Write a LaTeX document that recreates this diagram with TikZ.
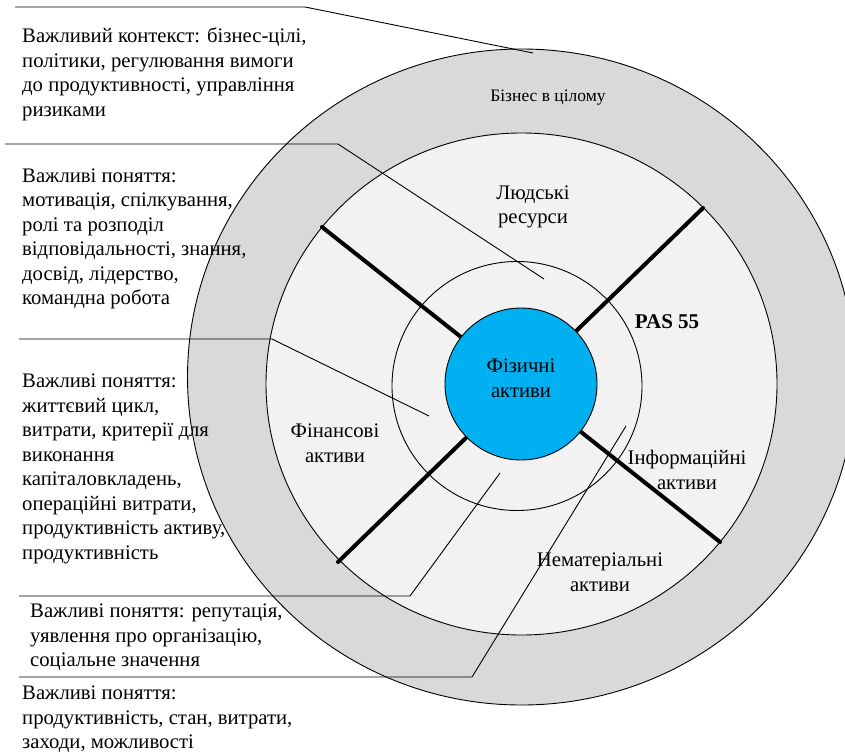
\documentclass[tikz,border=0pt]{standalone}
\usepackage{fontspec}
\setmainfont{Liberation Serif}
\definecolor{outergrey}{HTML}{D9D9D9}
\definecolor{innergrey}{HTML}{F2F2F2}
\definecolor{coreblue}{HTML}{00B0F0}
\begin{document}
\begin{tikzpicture}[x=1pt,y=-1pt,
  ring/.style={draw=black,line width=0.9pt},
  spoke/.style={line width=4pt,line cap=round},
  leader/.style={line width=0.9pt},
  note/.style={anchor=north west,inner sep=0pt,align=left,
    font=\fontsize{20.7}{24.5}\selectfont},
  sector/.style={align=center,inner sep=0pt,
    font=\fontsize{20.7}{24.5}\selectfont}]
\useasboundingbox (0,0) rectangle (845,754);

% outer business ring, cut at the page edge
\begin{scope}
  \clip (0,0) rectangle (845,754);
  \path[ring,fill=outergrey] (521.5,377) ellipse [x radius=334pt, y radius=328pt];
\end{scope}
% asset ring and the inner boundary circle
\path[ring,fill=innergrey] (521.5,384) ellipse [x radius=255.5pt, y radius=251pt];
\draw[ring] (517,386) ellipse [x radius=125pt, y radius=124.5pt];

% dividing spokes
\coordinate (s1) at (322,227);
\coordinate (s2) at (720,542);
\coordinate (s3) at (703,208);
\coordinate (s4) at (338,562);
\draw[spoke] (s1) -- (s2);
\draw[spoke] (s3) -- (s4);

% core: physical assets
\node[circle,draw=black,line width=0.9pt,fill=coreblue,minimum size=152pt,
  inner sep=0pt] (core) at (521,384) {};
\node[sector] (corelabel) at (521,378) {Фізичні\\активи};

% sector labels
\node[sector,font=\fontsize{17.5}{21}\selectfont] (biz) at (548,98) {Бізнес в цілому};
\node[sector] (hr) at (533,207) {Людські\\ресурси};
\node[sector,font=\fontsize{21}{24.5}\selectfont\bfseries] (pas) at (667,322) {PAS 55};
\node[sector] (fin) at (335,443) {Фінансові\\активи};
\node[sector] (info) at (687,470) {Інформаційні\\активи};
\node[sector] (intang) at (600,572) {Нематеріальні\\активи};

% explanatory notes
\node[note] (n1) at (22,27.5) {Важливий контекст: бізнес-цілі,\\політики, регулювання вимоги\\до продуктивності, управління\\ризиками};
\node[note] (n2) at (22,168.5) {Важливі поняття:\\мотивація, спілкування,\\ролі та розподіл\\відповідальності, знання,\\досвід, лідерство,\\командна робота};
\node[note] (n3) at (22,374) {Важливі поняття:\\життєвий цикл,\\витрати, критерії для\\виконання\\капіталовкладень,\\операційні витрати,\\продуктивність активу,\\продуктивність};
\node[note] (n4) at (30,604) {Важливі поняття: репутація,\\уявлення про організацію,\\соціальне значення};
\node[note] (n5) at (22,686) {Важливі поняття:\\продуктивність, стан, витрати,\\заходи, можливості};

% leader lines from the notes into the rings
\coordinate (l1a) at (15,7);   \coordinate (l1b) at (305,7);   \coordinate (l1c) at (533,53);
\coordinate (l2a) at (5,144);  \coordinate (l2b) at (338,144); \coordinate (l2c) at (544,279);
\coordinate (l3a) at (19,339); \coordinate (l3b) at (272,339); \coordinate (l3c) at (429,416);
\coordinate (l4a) at (19,596); \coordinate (l4b) at (410,596); \coordinate (l4c) at (500,473);
\coordinate (l5a) at (19,677); \coordinate (l5b) at (472,677); \coordinate (l5c) at (626,426);
\draw[leader] (l1a) -- (l1b) -- (l1c);
\draw[leader] (l2a) -- (l2b) -- (l2c);
\draw[leader] (l3a) -- (l3b) -- (l3c);
\draw[leader] (l4a) -- (l4b) -- (l4c);
\draw[leader] (l5a) -- (l5b) -- (l5c);
\end{tikzpicture}
\end{document}
